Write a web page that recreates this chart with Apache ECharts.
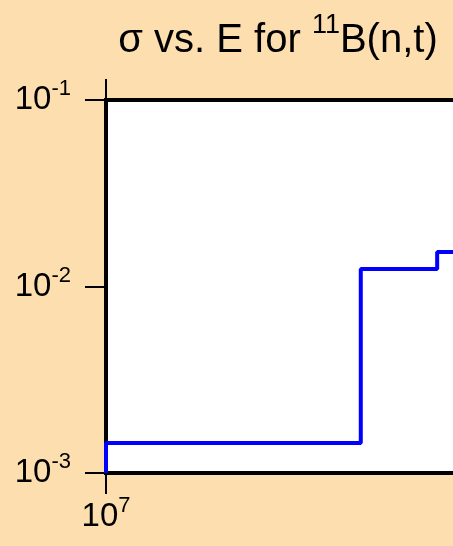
<!DOCTYPE html>
<html>
<head>
<meta charset="utf-8">
<script src="https://cdn.jsdelivr.net/npm/echarts@6/dist/echarts.min.js"></script>
<style>
html,body{margin:0;padding:0;background:#FDDEAE;overflow:hidden;}
#chart{width:556px;height:546px;}
</style>
</head>
<body>
<div id="chart"></div>
<script>
// Energy (eV) and cross section (b) histogram steps
const energies = [1e7, 1e7, 1.532e7, 1.741e7, 2e7];
const sigma = [1e-3, 1.45e-3, 1.24e-2, 1.53e-2, 1.53e-2];
const xRange = [1e7, 2e7];
const yRange = [1e-3, 1e-1];

const FONT = "'Liberation Sans', Arial, Helvetica, sans-serif";
const chart = echarts.init(document.getElementById('chart'));

function powLabel(v) {
  const e = Math.round(Math.log10(v));
  if (Math.abs(Math.log10(v) - e) > 1e-6) return '';
  return '{b|10}{s|' + e + '}';
}
const labelRich = {
  b: {fontSize: 33, fontFamily: FONT, fontWeight: 'normal', color: '#000'},
  s: {fontSize: 22, fontFamily: FONT, fontWeight: 'normal', color: '#000', padding: [0, 0, 22, 0]}
};

const xCommon = {
  type: 'log', logBase: 10, min: xRange[0], max: xRange[1],
  axisLine: {show: true, lineStyle: {color: '#000', width: 4, cap: 'square'}},
  axisTick: {show: true, inside: false, length: 21, lineStyle: {color: '#000', width: 2}},
  splitLine: {show: false}, minorTick: {show: false}
};

chart.setOption({
  backgroundColor: '#FDDEAE',
  animation: false,
  title: {
    text: '{a|σ vs. E for }{s|11}{a|B(n,t)}',
    left: 'center', top: 7,
    textStyle: {
      rich: {
        a: {fontSize: 40, fontFamily: FONT, fontWeight: 'normal', color: '#000'},
        s: {fontSize: 27, fontFamily: FONT, fontWeight: 'normal', color: '#000', padding: [0, 0, 30, 0]}
      }
    }
  },
  grid: {
    left: 106, top: 100, right: 36, bottom: 73,
    show: true, backgroundColor: '#ffffff', borderWidth: 0
  },
  xAxis: [
    Object.assign({}, xCommon, {
      position: 'bottom',
      axisLabel: {show: true, margin: 22, formatter: powLabel, rich: labelRich, showMaxLabel: false}
    }),
    Object.assign({}, xCommon, {
      position: 'top',
      axisLabel: {show: false}
    })
  ],
  yAxis: {
    type: 'log', logBase: 10, min: yRange[0], max: yRange[1],
    axisLine: {show: true, lineStyle: {color: '#000', width: 4, cap: 'square'}},
    axisTick: {show: true, inside: false, length: 21, lineStyle: {color: '#000', width: 2}},
    axisLabel: {show: true, margin: 35, formatter: powLabel, rich: labelRich},
    splitLine: {show: false}, minorTick: {show: false}
  },
  series: [{
    type: 'line',
    xAxisIndex: 0,
    step: 'end',
    showSymbol: false,
    data: energies.map((e, i) => [e, sigma[i]]),
    lineStyle: {color: '#0000ff', width: 4},
    itemStyle: {color: '#0000ff'}
  }]
});
</script>
</body>
</html>
